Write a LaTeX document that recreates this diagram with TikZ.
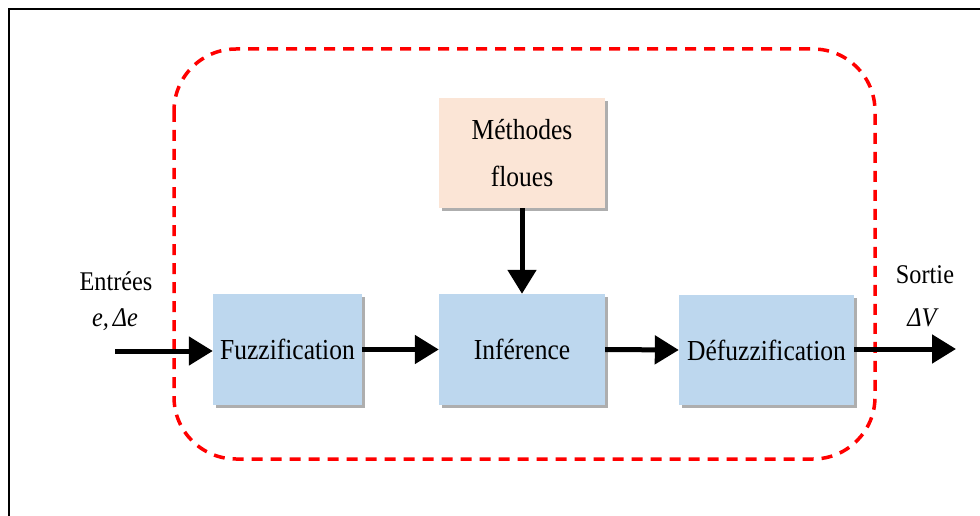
\documentclass[tikz,border=0pt]{standalone}
\usepackage{fontspec}
\setmainfont{Liberation Serif}
\usetikzlibrary{arrows.meta,shadows}
\definecolor{boxblue}{HTML}{BDD7EE}
\definecolor{boxpeach}{HTML}{FBE5D6}
\newcommand{\sqz}[1]{\scalebox{0.88}[1]{#1}}
\newcommand{\sqy}[1]{\scalebox{0.9}[1]{#1}}
\tikzset{
  blockbox/.style={draw=none, fill=boxblue, inner sep=0pt,
    drop shadow={shadow xshift=2.5pt, shadow yshift=-3pt, opacity=0.45, fill=black!70},
    font=\fontsize{29}{34}\selectfont},
  methbox/.style={blockbox, fill=boxpeach, align=center, font=\fontsize{29}{47}\selectfont},
  flow/.style={line width=5pt, -{Triangle[length=24pt,width=28pt]}},
  lbl/.style={inner sep=0pt, font=\fontsize{27}{32}\selectfont},
  reddash/.style={draw=red, line width=3.5pt, dash pattern=on 11pt off 8pt, rounded corners=62pt}
}
\begin{document}
\begin{tikzpicture}[x=1pt,y=-1pt]
\useasboundingbox (0,0) rectangle (980,516);
\fill[white] (0,0) rectangle (980,516);
% outer frame (open at right and bottom)
\draw[line width=2.2pt] (9,516) -- (9,9) -- (980,9);
% dashed system boundary
\draw[reddash] (174,49) rectangle (875,459);
% blocks
\node[blockbox, minimum width=149pt, minimum height=111pt] (fuzz) at (287.5,349.5) {\sqz{Fuzzification}};
\node[blockbox, minimum width=166pt, minimum height=111pt] (inf) at (522,349.5) {\sqz{Inférence}};
\node[blockbox, minimum width=175pt, minimum height=110pt] (defuzz) at (766.5,350) {\sqz{Défuzzification}};
\node[methbox, minimum width=166pt, minimum height=110pt] (meth) at (522,153) {\sqz{Méthodes}\\\sqz{floues}};
% labels
\node[lbl] (entrees) at (116,281) {\sqy{Entrées}};
\node[lbl] (ede) at (115,320) {\sqy{\itshape e,\,Δe}};
\node[lbl] (sortie) at (925,275) {\sqy{Sortie}};
\node[lbl] (dv) at (922,318) {\sqy{\itshape ΔV}};
% connectors
\coordinate (in) at (115,351);
\coordinate (out) at (956,349);
\draw[flow] (in) -- (fuzz.west |- in);
\draw[flow] (fuzz.east) -- (inf.west);
\draw[flow] (inf.east) -- (defuzz.west);
\draw[flow] (defuzz.east |- out) -- (out);
\draw[flow] (meth.south) -- (inf.north);
\end{tikzpicture}
\end{document}
